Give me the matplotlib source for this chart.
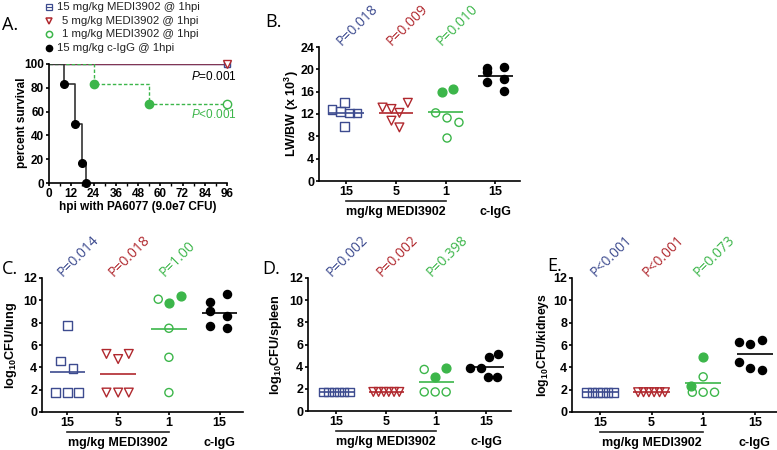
import matplotlib
matplotlib.use('Agg')
import matplotlib.pyplot as plt
import matplotlib.transforms as mtransforms
import numpy as np

plt.rcParams['font.family'] = ['Liberation Sans', 'DejaVu Sans']
plt.rcParams['mathtext.fontset'] = 'custom'
plt.rcParams['mathtext.rm'] = 'Liberation Sans'
plt.rcParams['mathtext.bf'] = 'Liberation Sans:bold'
plt.rcParams['mathtext.it'] = 'Liberation Sans:italic'
plt.rcParams['mathtext.default'] = 'bf'

BLUE = '#3d4b8f'
RED = '#b0282e'
GREEN = '#3cb64a'
BLACK = '#000000'

# ---- panel A: survival ----
surv_t_15 = [0, 96]
surv_s_15 = [100, 100]
surv_t_5 = [0, 96]
surv_s_5 = [100, 100]
surv_t_1 = [0, 24, 54, 96]
surv_s_1 = [100, 83.3, 66.7, 66.7]
surv_t_igg = [0, 8, 14, 18, 20]
surv_s_igg = [100, 83.3, 50, 16.7, 0]
legend_labels = ['15 mg/kg MEDI3902 @ 1hpi', '5 mg/kg MEDI3902 @ 1hpi',
                 '1 mg/kg MEDI3902 @ 1hpi', '15 mg/kg c-IgG @ 1hpi']

# ---- panels B-E: per-animal values ----
cat_labels = ['15', '5', '1', '15']

lw_15 = [12.8, 12.4, 14.1, 12.2, 12.2, 9.8]
lw_5 = [13.15, 12.9, 12.2, 14.0, 10.8, 9.6]
lw_1 = [15.95, 16.5, 12.2, 11.3, 10.5, 7.7]
lw_1_filled = [1, 1, 0, 0, 0, 0]
lw_igg = [20.2, 19.6, 20.4, 17.8, 18.3, 16.2]
lw_p = ['P=0.018', 'P=0.009', 'P=0.010']

lung_15 = [7.75, 4.56, 3.9, 1.74, 1.74, 1.74]
lung_5 = [5.2, 4.74, 5.2, 1.74, 1.74, 1.74]
lung_1 = [10.1, 9.76, 10.36, 7.5, 4.9, 1.74]
lung_1_filled = [0, 1, 1, 0, 0, 0]
lung_igg = [9.85, 10.54, 9.07, 8.56, 7.72, 7.5]
lung_p = ['P=0.014', 'P=0.018', 'P=1.00']

spleen_15 = [1.72, 1.72, 1.72, 1.72, 1.72, 1.72]
spleen_5 = [1.72, 1.72, 1.72, 1.72, 1.72, 1.72]
spleen_1 = [3.75, 3.1, 3.85, 1.72, 1.72, 1.72]
spleen_1_filled = [0, 1, 1, 0, 0, 0]
spleen_igg = [3.9, 3.9, 4.84, 5.14, 3.1, 3.1]
spleen_p = ['P=0.002', 'P=0.002', 'P=0.398']

kid_15 = [1.77, 1.77, 1.77, 1.77, 1.77, 1.77]
kid_5 = [1.77, 1.77, 1.77, 1.77, 1.77, 1.77]
kid_1 = [4.95, 2.34, 3.15, 1.77, 1.77, 1.77]
kid_1_filled = [1, 1, 0, 0, 0, 0]
kid_igg = [6.3, 6.06, 6.45, 4.44, 3.9, 3.75]
kid_p = ['P<0.001', 'P<0.001', 'P=0.073']

# horizontal scatter of the dots inside each group (layout only)
row_off = [-0.26, -0.155, -0.05, 0.05, 0.155, 0.26]
off_b = [[-0.29, -0.12, -0.04, 0.06, 0.22, -0.04],
         [-0.27, -0.09, 0.07, 0.24, -0.09, 0.07],
         [-0.08, 0.14, -0.2, 0.03, 0.27, 0.03],
         [-0.17, -0.17, 0.17, -0.17, 0.17, 0.17]]
off_c = [[0.0, -0.13, 0.11, -0.23, 0.0, 0.22],
         [-0.23, 0.0, 0.21, -0.23, 0.0, 0.21],
         [-0.21, 0.0, 0.23, 0.0, 0.0, 0.0],
         [-0.2, 0.14, -0.2, 0.14, -0.2, 0.14]]
off_d = [row_off, row_off,
         [-0.24, -0.02, 0.2, -0.24, -0.02, 0.2],
         [-0.32, -0.11, 0.05, 0.24, 0.04, 0.21]]
off_e = [row_off, row_off,
         [0.0, -0.24, 0.0, -0.21, 0.0, 0.22],
         [-0.3, -0.09, 0.14, -0.3, -0.09, 0.14]]

W, H = 777, 450
fig = plt.figure(figsize=(W / 100, H / 100), dpi=100)


def px_axes(l, t, r, b):
    return fig.add_axes([l / W, 1 - b / H, (r - l) / W, (b - t) / H])


def style(ax, fs):
    for s in ['top', 'right']:
        ax.spines[s].set_visible(False)
    for s in ['left', 'bottom']:
        ax.spines[s].set_linewidth(1.2)
    ax.tick_params(width=1.2, length=2.5, labelsize=fs, pad=1)
    ax.tick_params(which='minor', width=1.0, length=1.8)
    for lab in ax.get_xticklabels() + ax.get_yticklabels():
        lab.set_fontweight('bold')


# ---------------- panel A ----------------
axA = px_axes(49, 64, 227, 183)
axA.step(surv_t_15, surv_s_15, where='post', color=BLUE, lw=1)
axA.step(surv_t_5, surv_s_5, where='post', color=RED, lw=1, alpha=0.6)
axA.step(surv_t_1, surv_s_1, where='post', color=GREEN, lw=1, ls=(0, (2.5, 1.5)))
axA.step(surv_t_igg, surv_s_igg, where='post', color='#333333', lw=1.2)
axA.plot(surv_t_15[-1:], surv_s_15[-1:], 's', ms=5, mfc='none', mec=BLUE, mew=1,
         clip_on=False)
axA.plot(surv_t_5[-1:], surv_s_5[-1:], 'v', ms=6, mfc='white', mec=RED, mew=1,
         clip_on=False)
axA.plot(surv_t_1[1:-1], surv_s_1[1:-1], 'o', ms=6, color=GREEN)
axA.plot(surv_t_1[-1:], surv_s_1[-1:], 'o', ms=6, mfc='white', mec=GREEN, mew=1,
         clip_on=False)
axA.plot(surv_t_igg[1:], surv_s_igg[1:], 'o', ms=5.5, color=BLACK, clip_on=False, zorder=5)
axA.set_xlim(0, 96)
axA.set_ylim(0, 100)
axA.set_xticks(np.arange(0, 97, 12))
axA.set_xticks(np.arange(6, 96, 12), minor=True)
axA.set_yticks(np.arange(0, 101, 20))
style(axA, 8.5)
axA.set_xlabel('hpi with PA6077 (9.0e7 CFU)', fontsize=8.5, fontweight='bold', labelpad=1)
fig.text(22 / W, 1 - 123 / H, 'percent survival', rotation=90, fontsize=8.5,
         fontweight='bold', ha='center', va='center')
fig.text(237 / W, 1 - 77 / H, r'$\mathit{P}$=0.001', fontsize=8.5, ha='right', va='center')
fig.text(237 / W, 1 - 115 / H, r'$\mathit{P}$<0.001', fontsize=8.5, ha='right', va='center',
         color=GREEN)

# legend
leg_y = [7, 21, 34, 48]
leg_x = [57, 62, 62, 57]
for i, lab in enumerate(legend_labels):
    yy = 1 - leg_y[i] / H
    fig.text(leg_x[i] / W, yy, lab, fontsize=8.2, ha='left', va='center', color='#222222')
mk = fig.add_axes([0, 0, 1, 1], facecolor='none')
mk.set_xlim(0, W)
mk.set_ylim(H, 0)
mk.axis('off')
mk.plot([46, 52], [leg_y[0], leg_y[0]], color=BLUE, lw=0.8)
mk.plot([49], [leg_y[0]], 's', ms=4.5, mfc='none', mec=BLUE, mew=0.9)
mk.plot([49], [leg_y[1]], 'v', ms=5, mfc='none', mec=RED, mew=1.1)
mk.plot([49], [leg_y[2]], 'o', ms=4.5, mfc='none', mec=GREEN, mew=1.1)
mk.plot([49], [leg_y[3]], 'o', ms=4.5, color=BLACK)


# ---------------- categorical panels ----------------
def cat_panel(ax, groups, filled, offs, ylim, ystep, ylabel, lab_x, pvals, fs_lab):
    colors = [BLUE, RED, GREEN, BLACK]
    markers = ['s', 'v', 'o', 'o']
    for i, vals in enumerate(groups):
        x = i + 1
        vals = np.array(vals, dtype=float)
        xs = x + np.array(offs[i])
        ax.hlines(vals.mean(), x - 0.35, x + 0.35, color=colors[i], lw=1.2, zorder=2)
        if i == 3:
            ax.scatter(xs, vals, s=34, color=BLACK, zorder=3)
        elif i == 2:
            f = np.array(filled, dtype=bool)
            ax.scatter(xs[~f], vals[~f], s=34, facecolors='none', edgecolors=GREEN,
                       linewidths=1, zorder=3)
            ax.scatter(xs[f], vals[f], s=40, color=GREEN, zorder=3)
        else:
            ax.scatter(xs, vals, s=38 if i == 0 else 40, marker=markers[i],
                       facecolors='none', edgecolors=colors[i], linewidths=1, zorder=3)
    ax.set_xlim(*ylim[1])
    ax.set_ylim(0, ylim[0])
    ax.set_yticks(np.arange(0, ylim[0] + 0.1, ystep))
    ax.set_xticks([1, 2, 3, 4])
    ax.set_xticklabels(cat_labels)
    style(ax, 9)
    pos = ax.get_position()
    hpx = pos.height * H
    tr = mtransforms.blended_transform_factory(ax.transData, ax.transAxes)
    ax.plot([1, 3], [-20 / hpx, -20 / hpx], color='#222222', lw=1.2, transform=tr,
            clip_on=False)
    ax.text(2, -31 / hpx, 'mg/kg MEDI3902', transform=tr, ha='center', va='center',
            fontsize=9, fontweight='bold')
    ax.text(4, -31 / hpx, 'c-IgG', transform=tr, ha='center', va='center',
            fontsize=9, fontweight='bold')
    for i, p in enumerate(pvals):
        ax.text(i + 1 - 0.03, 1.0 - 2 / hpx, p, transform=tr, rotation=45,
                rotation_mode='anchor', ha='left', va='bottom', fontsize=10,
                color=[BLUE, RED, GREEN][i], family=['Open Sans', 'DejaVu Sans'])
    fig.text(lab_x / W, pos.y0 + pos.height / 2, ylabel, rotation=90, fontsize=fs_lab,
             fontweight='bold', ha='center', va='center')


axB = px_axes(319, 47, 520, 181)
cat_panel(axB, [lw_15, lw_5, lw_1, lw_igg], lw_1_filled, off_b, (24, (0.45, 4.5)), 4,
          r'LW/BW (x 10$^{3}$)', 292, lw_p, 9)

axC = px_axes(42, 278, 243, 412)
cat_panel(axC, [lung_15, lung_5, lung_1, lung_igg], lung_1_filled, off_c, (12, (0.5, 4.46)), 2,
          r'log$_{10}$CFU/lung', 11, lung_p, 9.2)

axD = px_axes(308, 278, 511, 411)
cat_panel(axD, [spleen_15, spleen_5, spleen_1, spleen_igg], spleen_1_filled, off_d,
          (12, (0.43, 4.5)), 2, r'log$_{10}$CFU/spleen', 276, spleen_p, 9.2)

axE = px_axes(572, 278, 777, 412)
cat_panel(axE, [kid_15, kid_5, kid_1, kid_igg], kid_1_filled, off_e, (12, (0.46, 4.43)), 2,
          r'log$_{10}$CFU/kidneys', 543, kid_p, 8.8)

# panel letters
for lx, ly, t in [(2, 25, 'A.'), (265, 22, 'B.'), (2, 269, 'C.'), (262, 269, 'D.'),
                  (547, 266, 'E.')]:
    fig.text(lx / W, 1 - ly / H, t, fontsize=13, ha='left', va='center',
             family=['Open Sans', 'DejaVu Sans'])

fig.savefig('out.png', dpi=100)
